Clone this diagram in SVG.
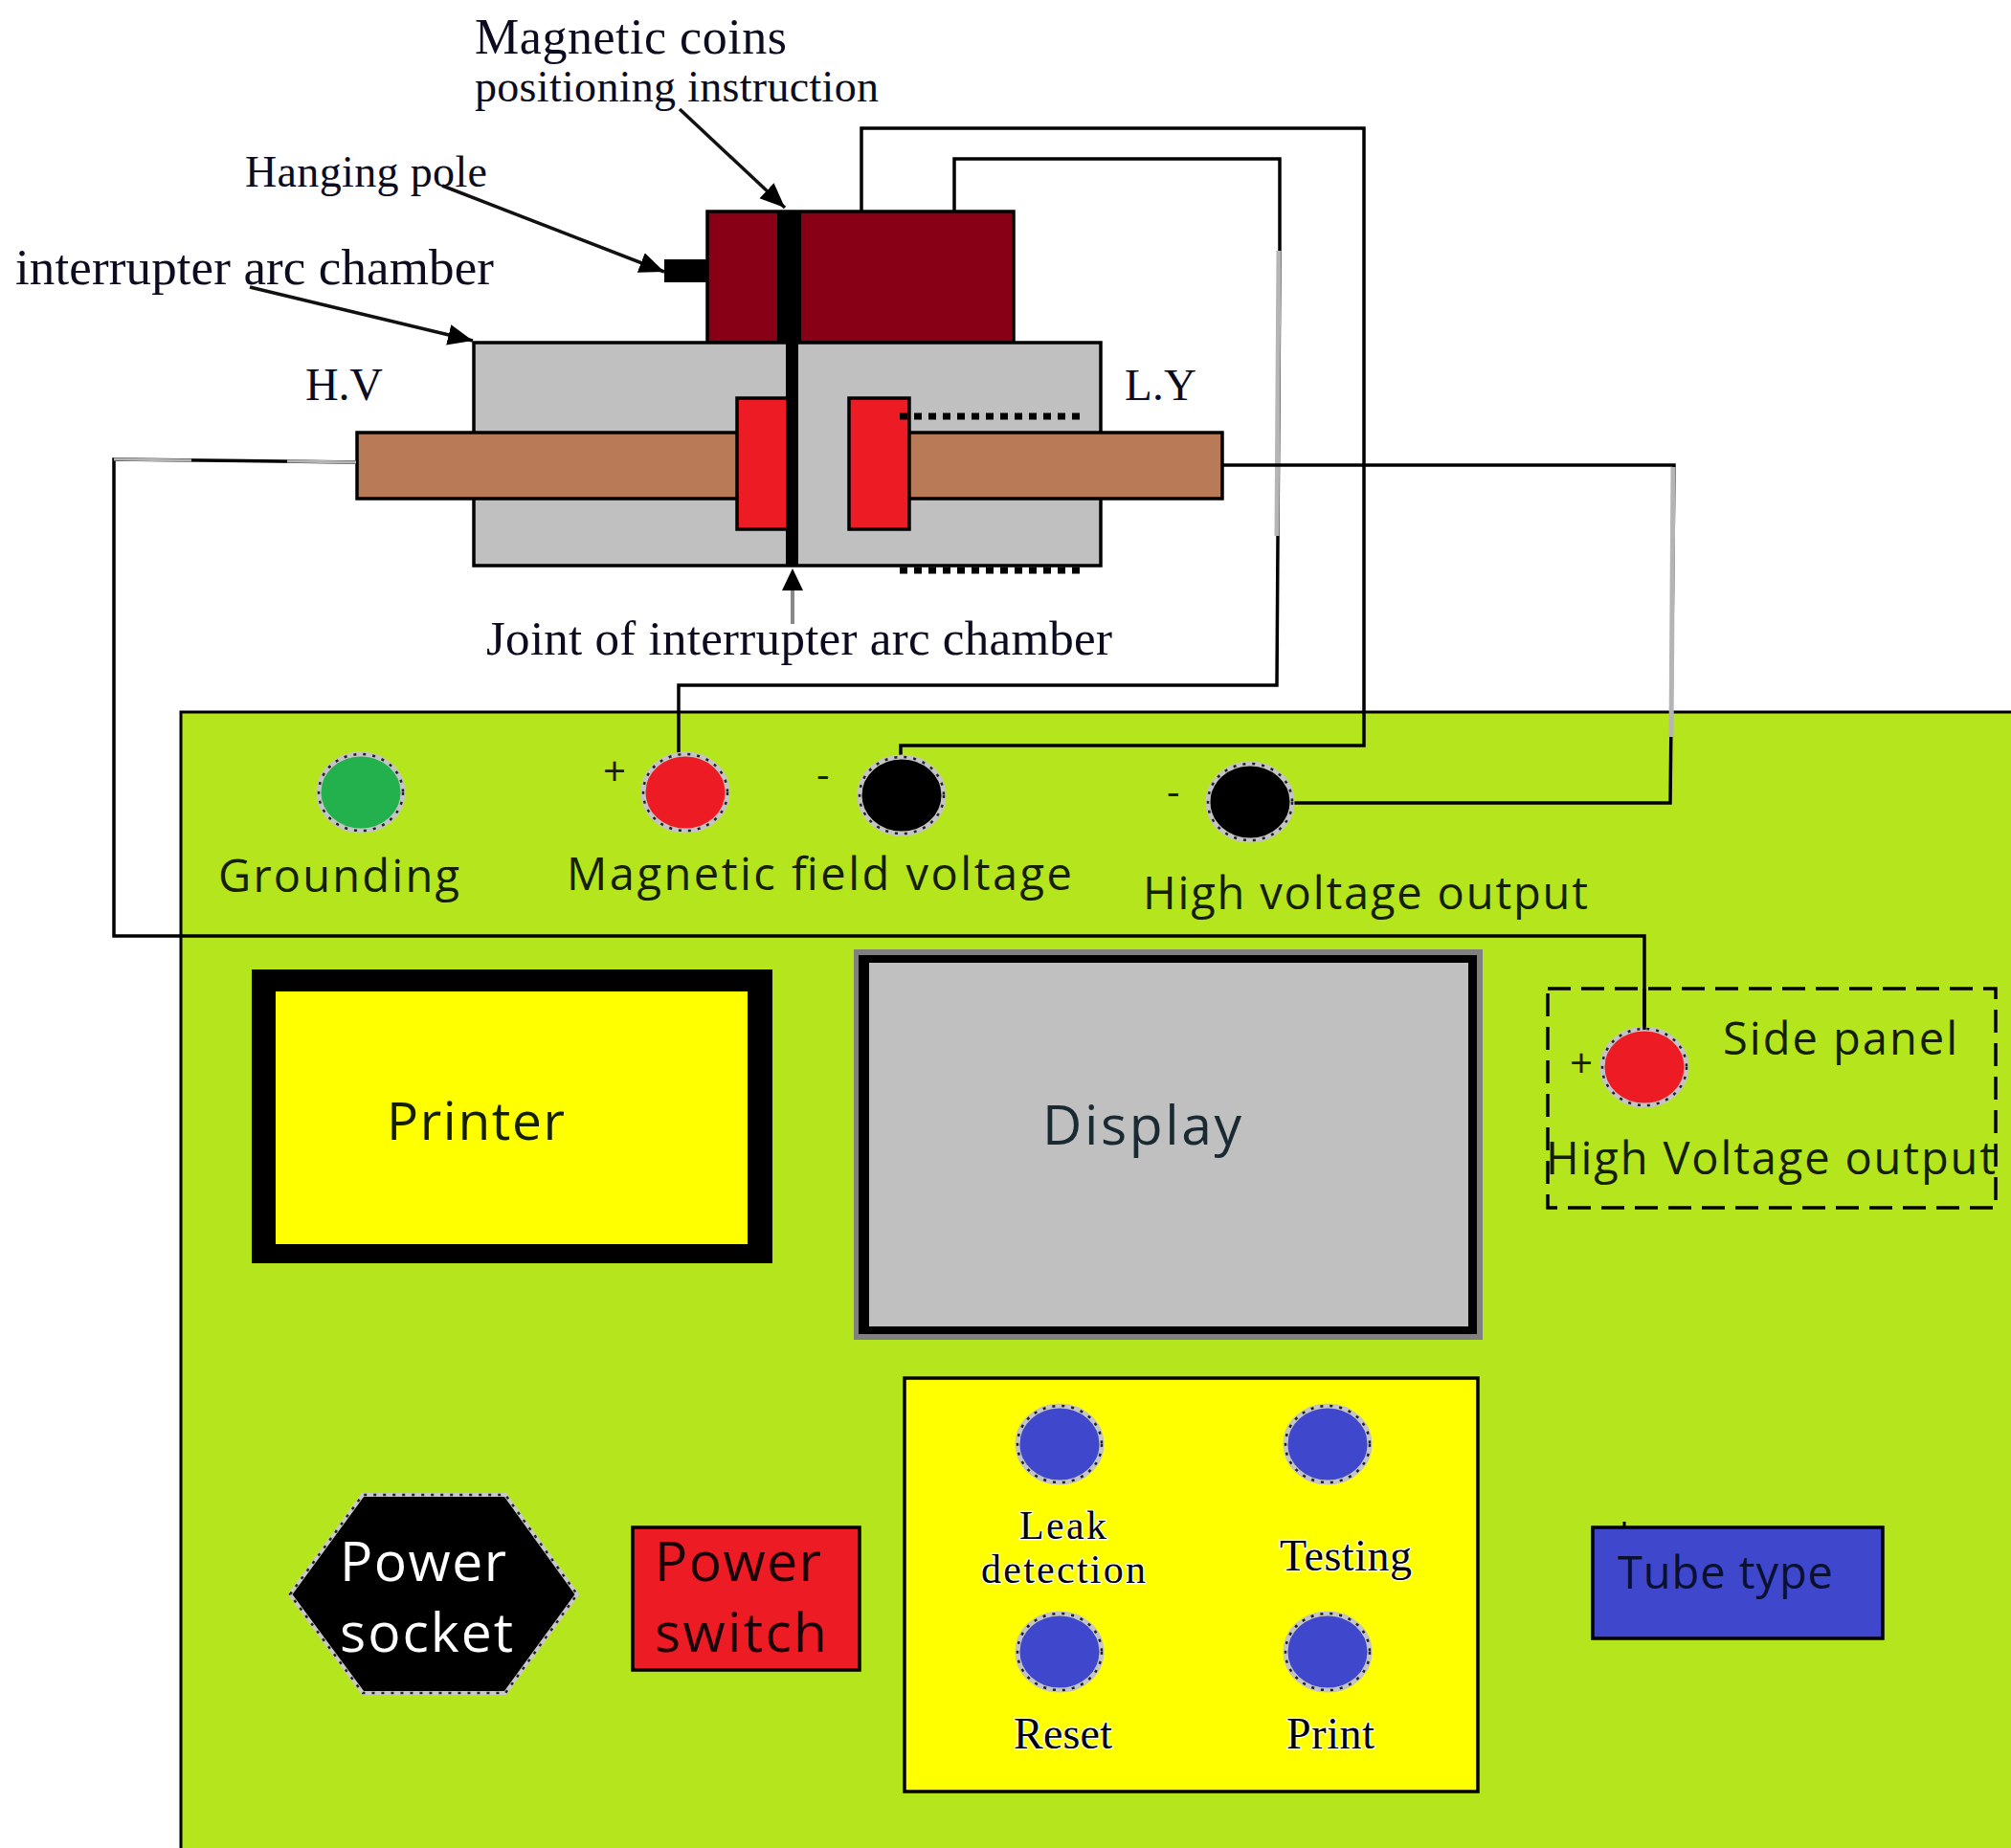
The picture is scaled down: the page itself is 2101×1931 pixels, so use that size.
<svg xmlns="http://www.w3.org/2000/svg" width="2101" height="1931" viewBox="0 0 2101 1931">
<defs>
<style>
.w{fill:none;stroke:#000;stroke-width:3.5}
.g{fill:none;stroke:#b5b5b5;stroke-width:5}
.a{fill:none;stroke:#111;stroke-width:3.5;marker-end:url(#ah)}
.b{stroke:#000;stroke-width:3.5}
.s{font-family:"Liberation Serif",serif;fill:#0c0c20}
.n{font-family:"Open Sans","Noto Sans",sans-serif;fill:#142000}
.k{paint-order:stroke;stroke:#fff;stroke-width:2.5px;fill:#000}
.c{stroke:#c4c4c4;stroke-width:5}
.r{fill:none;stroke:#222;stroke-width:2.5;stroke-dasharray:3 7}
.d{fill:none;stroke:#000;stroke-width:7;stroke-dasharray:8 7}
</style>
<marker id="ah" markerUnits="userSpaceOnUse" markerWidth="28" markerHeight="24" refX="26" refY="11" orient="auto"><path d="M0 0L26 11L0 22Z" fill="#000"/></marker>
</defs>
<rect width="2101" height="1931" fill="#fff"/>
<g id="panel"><rect x="189" y="744" width="1930" height="1200" fill="#b5e61d" stroke="#000" stroke-width="3"/></g>
<g id="hanging-pole"><rect x="694" y="271" width="46" height="24" fill="#000"/></g>
<g id="coil"><rect class="b" x="739" y="221" width="320" height="137" fill="#880015"/></g>
<g id="chamber"><rect class="b" x="495" y="358" width="655" height="233" fill="#c0c0c0"/></g>
<g id="bar-left"><rect class="b" x="373" y="452" width="400" height="69" fill="#b97a57"/></g>
<g id="bar-right"><rect class="b" x="948" y="452" width="329" height="69" fill="#b97a57"/></g>
<g id="contact-left"><rect class="b" x="770" y="416" width="53" height="137" fill="#ed1c24"/></g>
<g id="contact-right"><rect class="b" x="887" y="416" width="63" height="137" fill="#ed1c24"/></g>
<g id="dots"><path class="d" d="M940 435H1134M940 596H1134"/></g>
<g id="center-pole"><rect x="812" y="221" width="25" height="137" fill="#000"/><rect x="821" y="358" width="13" height="234" fill="#000"/></g>
<g id="connectors">
<path class="w" d="M900 221V134H1425V779H941V793"/>
<path class="w" d="M997 221V166H1337V262L1334 716H709V790"/>
<path class="g" d="M1336 262L1334 560"/>
<path class="w" d="M1277 486H1749L1745 839H1351"/>
<path class="g" d="M1748 488L1746 770"/>
<path class="w" d="M372 483L119 480V978H1718V1076"/>
<path class="g" d="M372 483L300 482" style="stroke-width:3"/>
<path class="g" d="M200 481L119 480" style="stroke-width:3"/>
<path class="a" d="M710 114L820 217"/>
<path class="a" d="M462 194L694 284"/>
<path class="a" d="M261 300L494 356"/>
<path d="M828 652V612" fill="none" stroke="#888" stroke-width="4"/><path d="M828 594L817 617H839Z" fill="#000"/>
</g>
<g id="grounding"><ellipse class="c" cx="377" cy="828" rx="44" ry="40" fill="#22b14c"/><ellipse class="r" cx="377" cy="828" rx="44" ry="40"/><text class="n" x="228" y="932" font-size="47" textLength="252">Grounding</text></g>
<g id="mag-plus"><ellipse class="c" cx="716" cy="828" rx="44" ry="40" fill="#ed1c24"/><ellipse class="r" cx="716" cy="828" rx="44" ry="40"/><text class="n" x="630" y="821" font-size="42">+</text></g>
<g id="mag-minus"><ellipse class="c" cx="942" cy="831" rx="44" ry="40" fill="#000"/><ellipse class="r" cx="942" cy="831" rx="44" ry="40"/><text class="n" x="853" y="824" font-size="42">-</text><text class="n" x="592" y="930" font-size="47" textLength="528">Magnetic field voltage</text></g>
<g id="hv-minus"><ellipse class="c" cx="1306" cy="838" rx="44" ry="40" fill="#000"/><ellipse class="r" cx="1306" cy="838" rx="44" ry="40"/><text class="n" x="1219" y="842" font-size="42">-</text><text class="n" x="1194" y="950" font-size="47" textLength="465">High voltage output</text></g>
<g id="printer"><rect x="263" y="1013" width="544" height="307" fill="#000"/><rect x="288" y="1036" width="493" height="264" fill="#ff0"/><text class="n" x="404" y="1191" font-size="55" textLength="186">Printer</text></g>
<g id="display"><rect x="892" y="992" width="657" height="408" fill="#808080"/><rect x="897" y="998" width="646" height="396" fill="#000"/><rect x="908" y="1006" width="626" height="380" fill="#c0c0c0"/><text class="n" x="1089" y="1196" font-size="57" textLength="208" style="fill:#1a2a33">Display</text></g>
<g id="side-panel"><rect x="1617" y="1033" width="468" height="229" fill="none" stroke="#000" stroke-width="3.5" stroke-dasharray="24 11"/><ellipse class="c" cx="1718" cy="1115" rx="44" ry="40" fill="#ed1c24"/><ellipse class="r" cx="1718" cy="1115" rx="44" ry="40"/><path d="M1718 1033V1076" fill="none" stroke="#000" stroke-width="3.5"/><text class="n" x="1640" y="1126" font-size="42">+</text><text class="n" x="1800" y="1102" font-size="47" textLength="245">Side panel</text><text class="n" x="1615" y="1227" font-size="47" textLength="470">High Voltage output</text></g>
<g id="power-socket"><polygon points="303,1666 379,1562 528,1562 603,1666 528,1769 379,1769" fill="#000" stroke="#c8c8c8" stroke-width="4"/><polygon points="303,1666 379,1562 528,1562 603,1666 528,1769 379,1769" class="r"/><text x="355" y="1652" font-family="'Open Sans',sans-serif" font-size="57" fill="#fff" textLength="174">Power</text><text x="355" y="1726" font-family="'Open Sans',sans-serif" font-size="57" fill="#fff" textLength="181">socket</text></g>
<g id="power-switch"><rect class="b" x="661" y="1596" width="237" height="149" fill="#ed1c24"/><text class="n" x="684" y="1652" font-size="57" textLength="174" style="fill:#1a0008">Power</text><text class="n" x="684" y="1726" font-size="57" textLength="180" style="fill:#1a0008">switch</text></g>
<g id="keypad"><rect class="b" x="945" y="1440" width="599" height="432" fill="#ff0"/></g>
<g id="leak"><ellipse class="c" cx="1107" cy="1509" rx="44" ry="40" fill="#3f48cc"/><ellipse class="r" cx="1107" cy="1509" rx="44" ry="40"/><text class="s k" x="1065" y="1608" font-size="42" textLength="91">Leak</text><text class="s k" x="1025" y="1654" font-size="42" textLength="172">detection</text></g>
<g id="testing"><ellipse class="c" cx="1387" cy="1509" rx="44" ry="40" fill="#3f48cc"/><ellipse class="r" cx="1387" cy="1509" rx="44" ry="40"/><text class="s k" x="1337" y="1641" font-size="46" textLength="138">Testing</text></g>
<g id="reset"><ellipse class="c" cx="1107" cy="1726" rx="44" ry="40" fill="#3f48cc"/><ellipse class="r" cx="1107" cy="1726" rx="44" ry="40"/><text class="s k" x="1059" y="1827" font-size="46" textLength="103">Reset</text></g>
<g id="print"><ellipse class="c" cx="1387" cy="1726" rx="44" ry="40" fill="#3f48cc"/><ellipse class="r" cx="1387" cy="1726" rx="44" ry="40"/><text class="s k" x="1344" y="1827" font-size="46" textLength="92">Print</text></g>
<g id="tube-type"><rect class="b" x="1664" y="1596" width="303" height="116" fill="#3f48cc"/><path d="M1697 1596V1590" stroke="#000" stroke-width="3"/><text class="n" x="1690" y="1660" font-size="47" textLength="225" style="fill:#0a1030">Tube type</text></g>
<g id="labels">
<text class="s" x="496" y="56" font-size="52" textLength="326">Magnetic coins</text>
<text class="s" x="496" y="106" font-size="46" textLength="422">positioning instruction</text>
<text class="s" x="256" y="195" font-size="46" textLength="253">Hanging pole</text>
<text class="s" x="16" y="297" font-size="53" textLength="500">interrupter arc chamber</text>
<text class="s" x="319" y="418" font-size="48" textLength="81">H.V</text>
<text class="s" x="1175" y="418" font-size="47" textLength="75">L.Y</text>
<text class="s" x="508" y="684" font-size="51" textLength="654">Joint of interrupter arc chamber</text>
</g>
</svg>
